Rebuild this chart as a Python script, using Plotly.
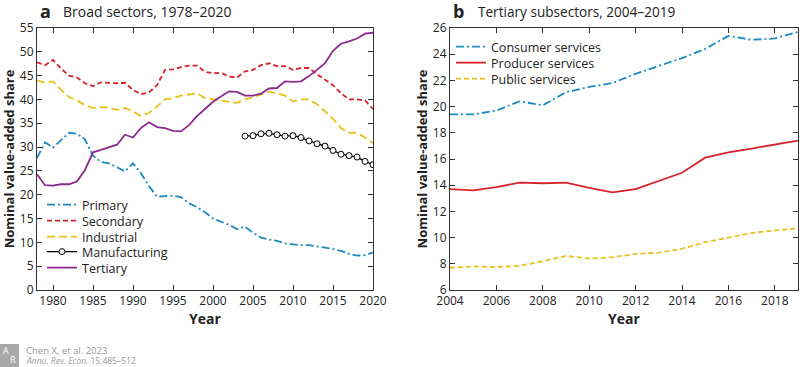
import plotly.graph_objects as go

# ---------- Data: panel a (1978-2020) ----------
years_a = list(range(1978, 2021))
primary = [27.7, 31.0, 29.9, 31.5, 33.0, 32.8, 31.6, 28.2, 26.9, 26.6, 25.8, 24.9, 26.6, 24.5, 21.8,
           19.6, 19.7, 19.8, 19.5, 18.2, 17.4, 16.3, 15.0, 14.4, 13.7, 12.8, 13.3, 12.0, 11.0, 10.6,
           10.3, 9.8, 9.6, 9.4, 9.4, 9.2, 8.9, 8.6, 8.2, 7.6, 7.2, 7.3, 7.9]
secondary = [47.8, 47.2, 48.3, 46.5, 45.0, 44.6, 43.4, 42.8, 43.6, 43.5, 43.4, 43.5, 42.0, 41.1, 41.5,
             43.0, 46.2, 46.3, 46.8, 47.1, 47.1, 45.8, 45.5, 45.6, 44.8, 44.6, 45.9, 46.2, 47.2, 47.6,
             47.0, 47.0, 46.2, 46.6, 46.6, 45.3, 44.2, 43.0, 41.3, 40.0, 40.0, 39.8, 38.0]
industrial = [44.0, 43.5, 43.8, 42.0, 40.5, 39.8, 38.8, 38.2, 38.4, 38.3, 37.8, 38.2, 37.5, 36.5, 37.2,
              38.5, 40.0, 40.3, 40.8, 41.0, 41.3, 40.3, 40.0, 39.8, 39.5, 39.3, 40.0, 40.5, 41.0, 41.6,
              41.3, 40.8, 39.6, 40.0, 40.0, 39.0, 37.5, 35.9, 34.0, 33.0, 33.0, 32.0, 30.8]
tertiary = [24.3, 22.0, 21.9, 22.2, 22.2, 22.8, 25.2, 28.9, 29.4, 29.9, 30.5, 32.6, 32.0, 34.0, 35.2,
            34.2, 34.0, 33.4, 33.3, 34.6, 36.5, 38.0, 39.5, 40.6, 41.7, 41.6, 40.8, 40.8, 41.2, 42.3,
            42.4, 43.8, 43.7, 43.8, 44.9, 46.2, 47.6, 50.2, 51.7, 52.2, 52.8, 53.8, 54.0]
years_manuf = list(range(2004, 2021))
manufacturing = [32.3, 32.4, 32.8, 32.9, 32.6, 32.3, 32.4, 32.0, 31.3, 30.7, 30.2, 29.3, 28.5,
                 28.2, 27.9, 27.0, 26.3]

# ---------- Data: panel b (2004-2019) ----------
years_b = list(range(2004, 2020))
consumer = [19.4, 19.4, 19.7, 20.4, 20.1, 21.1, 21.5, 21.8, 22.5, 23.1, 23.7, 24.4, 25.4, 25.1, 25.2, 25.7]
producer = [13.7, 13.6, 13.85, 14.2, 14.15, 14.2, 13.8, 13.45, 13.7, 14.3, 14.95, 16.1, 16.5, 16.8, 17.1, 17.4]
public = [7.7, 7.8, 7.75, 7.85, 8.2, 8.6, 8.4, 8.5, 8.75, 8.85, 9.15, 9.65, 10.0, 10.35, 10.55, 10.7]

xticks_a = [1980, 1985, 1990, 1995, 2000, 2005, 2010, 2015, 2020]
xticks_b = [2004, 2006, 2008, 2010, 2012, 2014, 2016, 2018]

BLUE = "#1b8ac0"
RED = "#d8232a"
YELLOW = "#e9c01c"
PURPLE = "#8b2b8e"
FONT = "Open Sans"
H = 367.0

fig = go.Figure()

left_items = [
    ("Primary", dict(x=years_a, y=primary, mode="lines",
                     line=dict(color=BLUE, width=1.8, dash="8px,3px,2px,3px")), 205),
    ("Secondary", dict(x=years_a, y=secondary, mode="lines",
                       line=dict(color=RED, width=1.8, dash="5px,3px")), 221),
    ("Industrial", dict(x=years_a, y=industrial, mode="lines",
                        line=dict(color=YELLOW, width=1.8, dash="8px,4px")), 237),
    ("Manufacturing", dict(x=years_manuf, y=manufacturing, mode="lines+markers",
                           line=dict(color="black", width=1.3),
                           marker=dict(symbol="circle", size=6, color="white",
                                       line=dict(color="black", width=1))), 252),
    ("Tertiary", dict(x=years_a, y=tertiary, mode="lines",
                      line=dict(color=PURPLE, width=1.8)), 268),
]
right_items = [
    ("Consumer services", dict(x=years_b, y=consumer, mode="lines",
                               line=dict(color=BLUE, width=1.8, dash="8px,3px,2px,3px")), 47),
    ("Producer services", dict(x=years_b, y=producer, mode="lines",
                               line=dict(color=RED, width=1.8)), 63),
    ("Public services", dict(x=years_b, y=public, mode="lines",
                             line=dict(color=YELLOW, width=1.8, dash="5px,3px")), 79),
]

legend_layout = {}
n = 0
for items, xa, ya, lx in [(left_items, "x", "y", 42), (right_items, "x2", "y2", 451)]:
    for name, kw, ly in items:
        n += 1
        lname = "legend" if n == 1 else f"legend{n}"
        fig.add_trace(go.Scatter(name=name, xaxis=xa, yaxis=ya, legend=lname, **kw))
        legend_layout[lname] = dict(x=lx / 800, y=1 - ly / H, xanchor="left", yanchor="middle",
                                    bgcolor="rgba(0,0,0,0)", font=dict(size=12.5, color="#222"),
                                    itemwidth=30, borderwidth=0)

axis_common = dict(showline=True, linecolor="#333", linewidth=1, mirror="ticks",
                   ticks="inside", ticklen=5, tickcolor="#333", showgrid=False, zeroline=False,
                   automargin=False, tickfont=dict(family=FONT, size=12, color="#222"))

ytop, ybot = 1 - 28 / H, 1 - 290 / H

fig.update_layout(
    width=800, height=367,
    margin=dict(l=0, r=0, t=0, b=0, autoexpand=False),
    paper_bgcolor="white", plot_bgcolor="white",
    font=dict(family=FONT, size=12, color="#222"),
    xaxis=dict(domain=[37 / 800, 373 / 800], range=[1978, 2020], tickvals=xticks_a,
               title=dict(text="<b>Year</b>", font=dict(size=14), standoff=0), anchor="y",
               **axis_common),
    yaxis=dict(domain=[ybot, ytop], range=[0, 55], dtick=5,
               title=dict(text="<b>Nominal value-added share</b>", font=dict(size=13), standoff=2),
               anchor="x", **axis_common),
    xaxis2=dict(domain=[450 / 800, 798 / 800], range=[2004, 2019], tickvals=xticks_b,
                title=dict(text="<b>Year</b>", font=dict(size=14), standoff=0), anchor="y2",
                **axis_common),
    yaxis2=dict(domain=[ybot, ytop], range=[6, 26], dtick=2,
                title=dict(text="<b>Nominal value-added share</b>", font=dict(size=13), standoff=2),
                anchor="x2", **axis_common),
    showlegend=True,
    **legend_layout,
)

annotations = [
    dict(text="<b>a</b>", x=38 / 800, y=1 - 11 / H, font=dict(size=18)),
    dict(text="Broad sectors, 1978–2020", x=61 / 800, y=1 - 11 / H, font=dict(size=14)),
    dict(text="<b>b</b>", x=451 / 800, y=1 - 11 / H, font=dict(size=18)),
    dict(text="Tertiary subsectors, 2004–2019", x=476 / 800, y=1 - 11 / H, font=dict(size=13.6)),
    dict(text="Chen X, et al. 2023", x=24 / 800, y=1 - 350 / H, font=dict(size=9.5, color="#999")),
    dict(text="<i>Annu. Rev. Econ.</i> 15:485–512", x=24 / 800, y=1 - 360.5 / H,
         font=dict(size=8.5, color="#999")),
    dict(text="A", x=1 / 800, y=1 - 350 / H, font=dict(size=9, color="white")),
    dict(text="R", x=8 / 800, y=1 - 359 / H, font=dict(size=9, color="white")),
]
for a in annotations:
    a.update(xref="paper", yref="paper", xanchor="left", yanchor="middle", showarrow=False)
fig.update_layout(annotations=annotations)

fig.add_shape(type="rect", xref="paper", yref="paper",
              x0=0, x1=19 / 800, y0=0, y1=1 - 344 / H,
              fillcolor="#a8a8a8", line=dict(width=0), layer="below")

fig.write_html("out.html", config={"displayModeBar": False},
               post_script="document.body.style.margin='0';document.body.style.overflow='hidden';")
